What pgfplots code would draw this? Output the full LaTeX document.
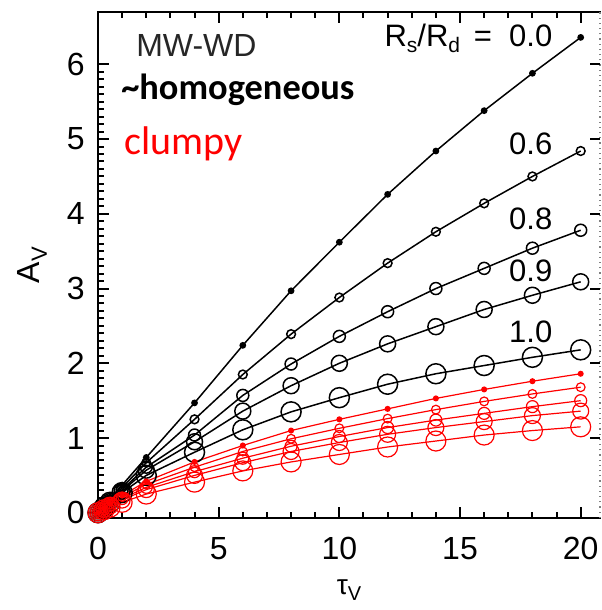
\documentclass[border=0pt]{standalone}
\usepackage{pgfplots}
\pgfplotsset{compat=1.18}
\usepackage{fontspec}
\setmainfont{Liberation Sans}
\newfontfamily\calibri{Carlito}
\usetikzlibrary{calc}
\begin{document}
\begin{tikzpicture}
\begin{axis}[
  scale only axis, width=251pt, height=253pt,
  xmin=0, xmax=20.8, ymin=-0.07, ymax=6.7,
  axis line style={black, line width=0.8pt},
  xtick={0,5,10,15,20}, minor x tick num=4,
  ytick={0,1,2,3,4,5,6}, minor y tick num=9,
  xtick pos=both, ytick pos=left,
  tick align=inside,
  major tick length=5.5pt, minor tick length=2.8pt,
  every tick/.append style={black, line width=1pt},
  /pgf/number format/assume math mode=true,
  ticklabel style={font=\fontsize{16}{18}\selectfont},
  yticklabel style={inner sep=0pt, xshift=-6.5pt},
  xticklabel style={inner sep=0pt, yshift=-9.5pt},
  xlabel={\fontsize{14}{16}\selectfont τ\raisebox{-0.45ex}{\fontsize{10}{10}\selectfont V}},
  ylabel={\fontsize{16}{18}\selectfont A\raisebox{-0.45ex}{\fontsize{11}{11}\selectfont V}},
  x label style={at={(axis description cs:0.5,0)}, anchor=center, yshift=-36pt},
  y label style={at={(axis description cs:0,0.5)}, anchor=center, rotate=0, yshift=33pt},
  clip=false,
]
% black (homogeneous)
\addplot[black, line width=0.75pt, mark=*, mark size=1.3pt, mark options={fill=black}] coordinates {
(0,0) (0.25,0.09) (0.5,0.19) (1,0.37) (2,0.74) (4,1.47) (6,2.24) (8,2.97) (10,3.62) (12,4.26) (14,4.84) (16,5.38) (18,5.88) (20,6.36)};
\addplot[black, line width=0.75pt, mark=o, mark size=2.2pt] coordinates {
(0,0) (0.25,0.08) (0.5,0.17) (1,0.34) (2,0.67) (4,1.25) (6,1.85) (8,2.39) (10,2.88) (12,3.34) (14,3.76) (16,4.14) (18,4.50) (20,4.84)};
\addplot[black, line width=0.75pt, mark=o, mark size=3pt] coordinates {
(0,0) (0.25,0.08) (0.5,0.16) (1,0.31) (2,0.61) (4,1.04) (6,1.57) (8,1.99) (10,2.36) (12,2.69) (14,3.00) (16,3.27) (18,3.54) (20,3.78)};
\addplot[black, line width=0.75pt, mark=o, mark size=4pt] coordinates {
(0,0) (0.25,0.07) (0.5,0.15) (1,0.29) (2,0.57) (4,0.95) (6,1.36) (8,1.70) (10,2.00) (12,2.26) (14,2.49) (16,2.72) (18,2.91) (20,3.09)};
\addplot[black, line width=0.75pt, mark=o, mark size=5pt] coordinates {
(0,0) (0.25,0.07) (0.5,0.14) (1,0.27) (2,0.50) (4,0.81) (6,1.11) (8,1.35) (10,1.54) (12,1.72) (14,1.86) (16,1.97) (18,2.08) (20,2.18)};
% red (clumpy)
\addplot[red, line width=0.6pt, mark=*, mark size=1.2pt, mark options={fill=red}] coordinates {
(0,0) (0.25,0.06) (0.5,0.12) (1,0.23) (2,0.42) (4,0.68) (6,0.90) (8,1.10) (10,1.25) (12,1.39) (14,1.53) (16,1.65) (18,1.76) (20,1.86)};
\addplot[red, line width=0.6pt, mark=o, mark size=2.2pt] coordinates {
(0,0) (0.25,0.055) (0.5,0.11) (1,0.21) (2,0.38) (4,0.61) (6,0.82) (8,0.99) (10,1.13) (12,1.26) (14,1.38) (16,1.49) (18,1.59) (20,1.68)};
\addplot[red, line width=0.6pt, mark=o, mark size=3pt] coordinates {
(0,0) (0.25,0.05) (0.5,0.10) (1,0.19) (2,0.34) (4,0.55) (6,0.73) (8,0.89) (10,1.02) (12,1.14) (14,1.24) (16,1.33) (18,1.42) (20,1.50)};
\addplot[red, line width=0.6pt, mark=o, mark size=4pt] coordinates {
(0,0) (0.25,0.045) (0.5,0.09) (1,0.17) (2,0.31) (4,0.50) (6,0.67) (8,0.82) (10,0.94) (12,1.05) (14,1.14) (16,1.22) (18,1.30) (20,1.36)};
\addplot[red, line width=0.6pt, mark=o, mark size=5pt] coordinates {
(0,0) (0.25,0.04) (0.5,0.075) (1,0.14) (2,0.25) (4,0.41) (6,0.56) (8,0.68) (10,0.78) (12,0.88) (14,0.96) (16,1.04) (18,1.10) (20,1.15)};
% right edge: dotted grey, with inward major ticks
\draw[white, line width=1.2pt] (rel axis cs:1,0) -- (rel axis cs:1,1);
\draw[gray, dotted, line width=0.6pt] (rel axis cs:1,0) -- (rel axis cs:1,1);
\pgfplotsinvokeforeach{1,2,3,4,5,6}{\draw[black, line width=1pt] (axis cs:20.8,#1) -- (axis cs:20.4,#1);}
% text
\node[anchor=base west, inner sep=0pt, text=black!85] at (axis cs:1.57,6.10) {\fontsize{16}{18}\selectfont MW-WD};
\node[anchor=base west, inner sep=0pt] at (axis cs:0.95,5.53) {\calibri\bfseries\fontsize{18.2}{20}\selectfont \textasciitilde homogeneous};
\node[anchor=base west, inner sep=0pt, text=red] at (axis cs:1.07,4.79) {\calibri\fontsize{20}{22}\selectfont clumpy};
\node[anchor=base east, inner sep=0pt] at (axis cs:18.84,6.24) {\fontsize{15.5}{17}\selectfont R\raisebox{-0.4ex}{\fontsize{10.5}{10}\selectfont s}/R\raisebox{-0.4ex}{\fontsize{10.5}{10}\selectfont d}\ \,= \ 0.0};
\node[anchor=base east, inner sep=0pt] at (axis cs:18.84,4.79) {\fontsize{15.5}{17}\selectfont 0.6};
\node[anchor=base east, inner sep=0pt] at (axis cs:18.84,3.79) {\fontsize{15.5}{17}\selectfont 0.8};
\node[anchor=base east, inner sep=0pt] at (axis cs:18.84,3.09) {\fontsize{15.5}{17}\selectfont 0.9};
\node[anchor=base east, inner sep=0pt] at (axis cs:18.84,2.28) {\fontsize{15.5}{17}\selectfont 1.0};
\end{axis}
\pgfresetboundingbox
\path ($(current axis.south west)+(-49pt,-46pt)$) rectangle ($(current axis.north east)+(0.5pt,6pt)$);
\end{tikzpicture}
\end{document}
